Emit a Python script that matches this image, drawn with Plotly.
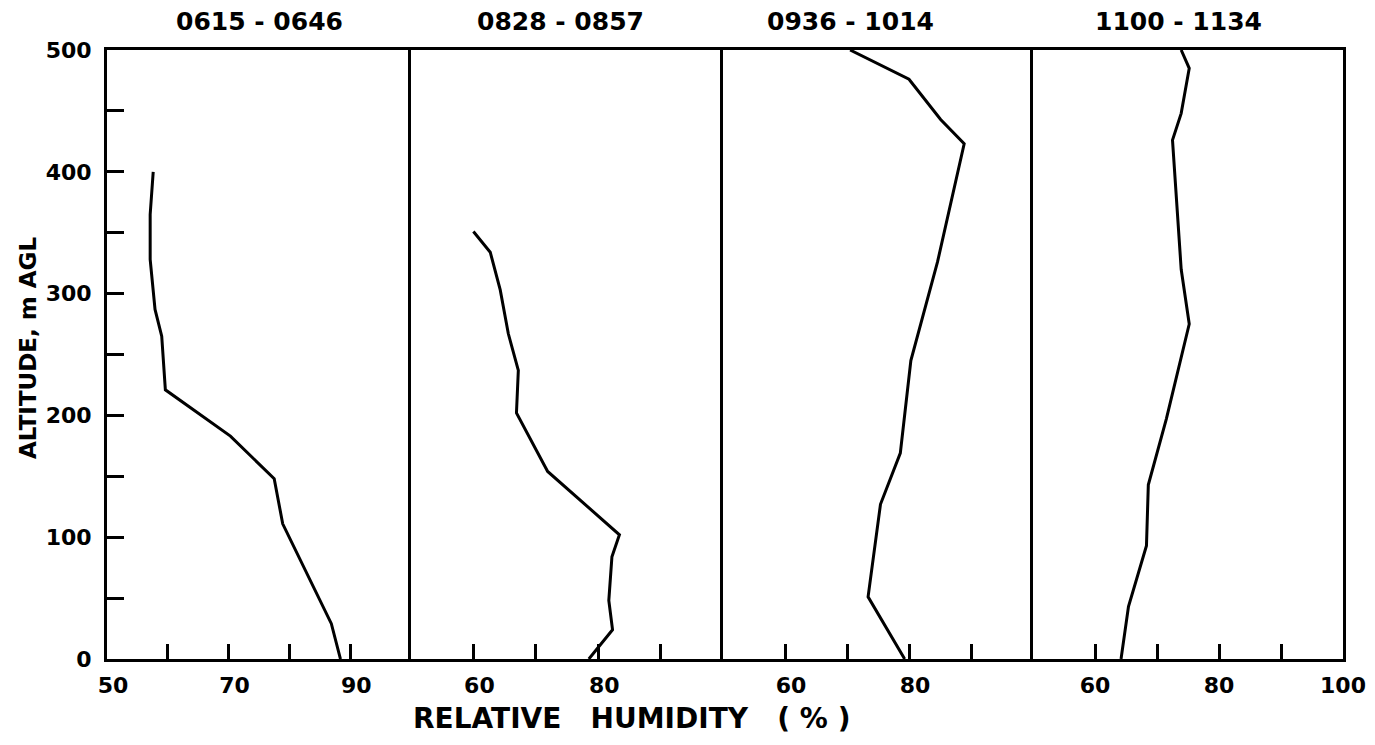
import plotly.graph_objects as go

# Panel titles (time windows)
panel_titles = ["0615 - 0646", "0828 - 0857", "0936 - 1014", "1100 - 1134"]

# Relative humidity (%) profiles and altitudes (m AGL)
rh_0615 = [88.4, 86.9, 78.9, 77.5, 70.3, 59.6, 59.0, 57.9, 57.1, 57.1, 57.6]
alt_0615 = [0, 29, 111, 148, 183, 221, 265, 287, 328, 365, 400]

rh_0828 = [78.5, 82.3, 81.7, 82.2, 83.4, 71.9, 66.9, 67.2, 65.6, 64.3, 62.7, 60.0]
alt_0828 = [0, 24, 48, 84, 102, 154, 202, 237, 267, 303, 334, 351]

rh_0936 = [79.3, 73.4, 75.4, 78.6, 80.3, 84.6, 88.9, 85.1, 80.0, 70.5]
alt_0936 = [0, 51, 127, 169, 245, 326, 423, 443, 476, 500]

rh_1100 = [64.2, 65.4, 68.3, 68.6, 71.5, 75.2, 73.9, 72.5, 73.9, 75.2, 73.9]
alt_1100 = [0, 43, 93, 143, 197, 275, 320, 426, 448, 485, 500]

# Tick labels
x_tickvals = [[50, 60, 70, 80, 90], [60, 70, 80, 90], [60, 70, 80, 90], [60, 70, 80, 90, 100]]
x_ticktext = [["50", "", "70", "", "90"], ["60", "", "80", ""], ["60", "", "80", ""], ["60", "", "80", "", "100"]]
y_tickvals = [0, 50, 100, 150, 200, 250, 300, 350, 400, 450, 500]
y_ticktext = ["0", "", "100", "", "200", "", "300", "", "400", "", "500"]

series = [(rh_0615, alt_0615), (rh_0828, alt_0828), (rh_0936, alt_0936), (rh_1100, alt_1100)]

OFF = 8  # page body margin
W, H = 1375 - 2 * OFF, 745 - 2 * OFF
L, T = 107 - OFF, 50 - OFF
R = W - (1343 - OFF)
B = H - (659 - OFF)
pw = W - L - R
ph = H - T - B
bounds_px = [107, 411, 723, 1033, 1343]
domains = [[(bounds_px[i] - 107) / pw, (bounds_px[i + 1] - 107) / pw] for i in range(4)]

FONT = "DejaVu Sans"
fig = go.Figure()
layout = dict(
    width=W, height=H,
    margin=dict(l=L, r=R, t=T, b=B, autoexpand=False),
    paper_bgcolor="white", plot_bgcolor="white",
    showlegend=False,
    font=dict(family=FONT, color="black", size=19),
)

for i, (xs, ys) in enumerate(series):
    sfx = "" if i == 0 else str(i + 1)
    fig.add_trace(go.Scatter(
        x=xs, y=ys, mode="lines",
        line=dict(color="black", width=3),
        xaxis="x" + sfx, yaxis="y" + sfx,
    ))
    layout["xaxis" + sfx] = dict(
        domain=domains[i], range=[50, 100], anchor="y" + sfx,
        automargin=False,
        showgrid=False, zeroline=False,
        showline=True, linecolor="black", linewidth=3, mirror=True,
        ticks="inside", ticklen=15, tickwidth=2.5, tickcolor="black",
        tickvals=x_tickvals[i], ticktext=x_ticktext[i],
        tickfont=dict(family=FONT, size=22, weight="bold"),
        ticklabelshift=6 if i < 3 else 0, ticklabelstandoff=5,
        ticklabeloverflow="allow",
    )
    ydict = dict(
        domain=[0, 1], range=[0, 500], anchor="x" + sfx,
        automargin=False,
        showgrid=False, zeroline=False,
        showline=True, linecolor="black", linewidth=3,
        mirror=(i == 3),
    )
    if i == 0:
        ydict.update(
            ticks="inside", ticklen=17, tickwidth=2.5, tickcolor="black",
            tickvals=y_tickvals, ticktext=y_ticktext,
            tickfont=dict(family=FONT, size=22, weight="bold"),
            ticklabelstandoff=8,
        )
    else:
        ydict.update(showticklabels=False, ticks="", matches="y")
    layout["yaxis" + sfx] = ydict

fig.update_layout(**layout)

annotations = []
title_px = [259, 560, 850, 1178]
for t, px in zip(panel_titles, title_px):
    annotations.append(dict(
        text=t, xref="paper", yref="paper",
        x=(px - 107) / pw, y=1, yshift=29, showarrow=False,
        xanchor="center", yanchor="middle",
        font=dict(family=FONT, size=25, weight="bold"),
    ))
annotations.append(dict(
    text="RELATIVE   HUMIDITY   ( % )", xref="paper", yref="paper",
    x=(631 - 107) / pw, y=0, yshift=-59, showarrow=False,
    xanchor="center", yanchor="middle",
    font=dict(family=FONT, size=28, weight="bold"),
))
annotations.append(dict(
    text="ALTITUDE, m AGL", xref="paper", yref="paper",
    x=0, xshift=-(107 - 28), y=(659 - 348) / ph, showarrow=False,
    xanchor="center", yanchor="middle", textangle=-90,
    font=dict(family=FONT, size=23, weight="bold"),
))
fig.update_layout(annotations=annotations)

fig.write_html("out.html")
